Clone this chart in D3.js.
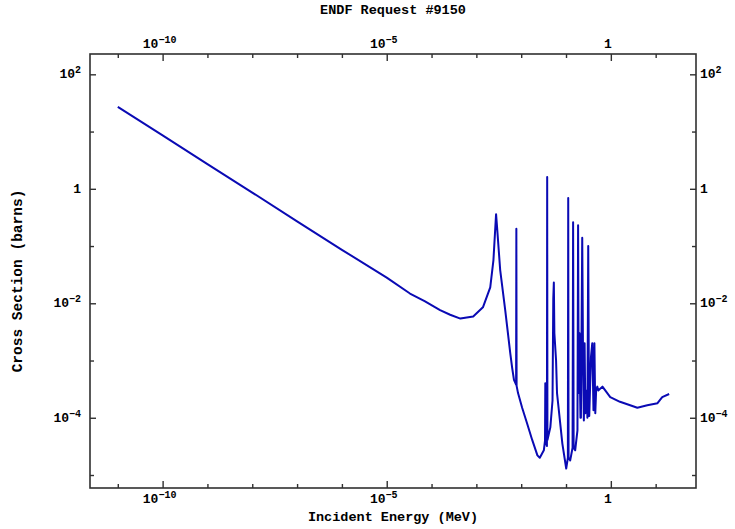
<!DOCTYPE html>
<html>
<head>
<meta charset="utf-8">
<script src="https://cdn.jsdelivr.net/npm/d3@7"></script>
<style>
  html, body { margin: 0; padding: 0; background: #fff; }
  svg { display: block; }
  text { font-family: "Liberation Mono", "DejaVu Sans Mono", monospace; font-weight: bold; fill: #000; }
</style>
</head>
<body>
<svg id="chart" width="735" height="529"></svg>
<script>
// ---- data ----
const title = "ENDF Request #9150";
const xTitle = "Incident Energy (MeV)";
const yTitle = "Cross Section (barns)";

// Incident energy (MeV)
const energy = [
  1e-11, 1e-10, 1e-9, 1e-8, 1e-7, 1e-6, 1e-5, 3.3e-5, 7e-5, 1.55e-4, 2.6e-4,
  4.4e-4, 8.5e-4, 1.4e-3, 2.04e-3, 2.4e-3, 2.75e-3, 2.9e-3, 3.4e-3, 4.4e-3, 5.7e-3,
  6.3e-3, 6.9e-3, 7.7e-3, 7.8e-3, 7.9e-3, 8.5e-3, 0.0105, 0.0135, 0.0176, 0.023,
  0.026, 0.032, 0.0340, 0.0345, 0.0350, 0.0375, 0.038, 0.0385, 0.0447, 0.050,
  0.052, 0.0535, 0.055, 0.060, 0.063, 0.083, 0.101, 0.110, 0.112, 0.114,
  0.124, 0.140, 0.144, 0.148, 0.160, 0.180, 0.186, 0.192, 0.200, 0.206,
  0.210, 0.215, 0.222, 0.230, 0.240, 0.250, 0.260, 0.270, 0.290, 0.300,
  0.313, 0.326, 0.33, 0.36, 0.385, 0.41, 0.43, 0.45, 0.47, 0.50,
  0.525, 0.65, 0.75, 0.97, 1.6, 2.7, 3.9, 6.5, 11, 14,
  20
];
// Cross section (barns)
const sigma = [
  26.9, 8.6, 2.7, 0.86, 0.27, 0.086, 0.028, 0.0148, 0.0109, 0.0076, 0.0063,
  0.0054, 0.0059, 0.0085, 0.019, 0.056, 0.36, 0.21, 0.038, 0.0076, 1.35e-3,
  7.4e-4, 4.6e-4, 3.8e-4, 0.2, 3.6e-4, 2.7e-4, 1.5e-4, 8e-5, 4.1e-5, 2.2e-5,
  2.0e-5, 2.7e-5, 4e-5, 4e-4, 4e-5, 3.2e-5, 1.6, 4.1e-5, 6.8e-5, 2e-4,
  0.012, 0.023, 3e-3, 1.0e-3, 2.7e-4, 3.5e-5, 1.3e-5, 2.0e-5, 0.69, 2.0e-5,
  1.8e-5, 3.0e-5, 0.26, 3.0e-5, 2.7e-5, 6e-5, 0.23, 2.7e-4, 3e-3, 2.7e-4,
  1.0e-4, 1.0e-4, 3e-3, 0.14, 1e-3, 9e-5, 2e-3, 1.2e-4, 3e-4, 1e-4,
  0.1, 1.07e-4, 1.07e-4, 1.15e-3, 2e-3, 1.35e-4, 2e-3, 1.2e-4, 3.0e-4, 3.5e-4,
  3.0e-4, 3.5e-4, 3.0e-4, 2.3e-4, 1.9e-4, 1.65e-4, 1.5e-4, 1.65e-4, 1.8e-4, 2.3e-4,
  2.6e-4
];

const xMajor = [1e-10, 1e-5, 1];
const xMinor = [1e-11, 1e-9, 1e-8, 1e-7, 1e-6, 1e-4, 1e-3, 1e-2, 1e-1, 10];
const yMajor = [1e2, 1, 1e-2, 1e-4];
const yMinor = [10, 1e-1, 1e-3, 1e-5];

// ---- drawing ----
const svg = d3.select("#chart");
const L = 90, R = 696, T = 54, B = 488;

const x = d3.scaleLog().domain([Math.pow(10, -11.62), Math.pow(10, 1.9)]).range([L, R]);
const y = d3.scaleLog().domain([Math.pow(10, -5.227), Math.pow(10, 2.355)]).range([B, T]);

const frameColor = "#303030";

function styleAxis(g) {
  g.select(".domain").remove();
  g.selectAll(".tick line").attr("stroke", frameColor).attr("stroke-width", 1.4);
  g.selectAll(".tick text").remove();
}

// bottom
svg.append("g").attr("transform", `translate(0,${B})`)
  .call(d3.axisBottom(x).tickValues(xMajor).tickSize(-7).tickFormat(""))
  .call(styleAxis);
svg.append("g").attr("transform", `translate(0,${B})`)
  .call(d3.axisBottom(x).tickValues(xMinor).tickSize(-4).tickFormat(""))
  .call(styleAxis);
// top
svg.append("g").attr("transform", `translate(0,${T})`)
  .call(d3.axisTop(x).tickValues(xMajor).tickSize(-7).tickFormat(""))
  .call(styleAxis);
svg.append("g").attr("transform", `translate(0,${T})`)
  .call(d3.axisTop(x).tickValues(xMinor).tickSize(-4).tickFormat(""))
  .call(styleAxis);
// left
svg.append("g").attr("transform", `translate(${L},0)`)
  .call(d3.axisLeft(y).tickValues(yMajor).tickSize(-6).tickFormat(""))
  .call(styleAxis);
svg.append("g").attr("transform", `translate(${L},0)`)
  .call(d3.axisLeft(y).tickValues(yMinor).tickSize(-4).tickFormat(""))
  .call(styleAxis);
// right
svg.append("g").attr("transform", `translate(${R},0)`)
  .call(d3.axisRight(y).tickValues(yMajor).tickSize(-6).tickFormat(""))
  .call(styleAxis);
svg.append("g").attr("transform", `translate(${R},0)`)
  .call(d3.axisRight(y).tickValues(yMinor).tickSize(-4).tickFormat(""))
  .call(styleAxis);

// frame
svg.append("rect").attr("x", L).attr("y", T).attr("width", R - L).attr("height", B - T)
  .attr("fill", "none").attr("stroke", frameColor).attr("stroke-width", 1.6);

// clip + curve
svg.append("clipPath").attr("id", "clip").append("rect")
  .attr("x", L).attr("y", T).attr("width", R - L).attr("height", B - T);

const pts = energy.map((e, i) => [e, sigma[i]]);
const line = d3.line().x(d => x(d[0])).y(d => y(d[1]));
svg.append("path").datum(pts)
  .attr("clip-path", "url(#clip)")
  .attr("d", line)
  .attr("fill", "none")
  .attr("stroke", "#0a0ab4")
  .attr("stroke-width", 2)
  .attr("stroke-linejoin", "round");

// tick label helper
function powLabel(sel, v) {
  const exp = Math.round(Math.log10(v));
  if (exp === 0) {
    sel.text("1");
    return;
  }
  sel.append("tspan").text("10");
  sel.append("tspan").attr("dy", -5).attr("font-size", 10).text(exp < 0 ? "\u2212" + (-exp) : String(exp));
}

const labelSize = 13;
// bottom / top labels
xMajor.forEach(v => {
  svg.append("text").attr("x", x(v) - 3).attr("y", 503).attr("text-anchor", "middle")
    .attr("font-size", labelSize).call(s => powLabel(s, v));
  svg.append("text").attr("x", x(v) - 3).attr("y", 48).attr("text-anchor", "middle")
    .attr("font-size", labelSize).call(s => powLabel(s, v));
});
// left / right labels
yMajor.forEach(v => {
  svg.append("text").attr("x", 81).attr("y", y(v) + 4).attr("text-anchor", "end")
    .attr("font-size", labelSize).call(s => powLabel(s, v));
  svg.append("text").attr("x", 700).attr("y", y(v) + 4).attr("text-anchor", "start")
    .attr("font-size", labelSize).call(s => powLabel(s, v));
});

// titles
svg.append("text").attr("x", (L + R) / 2).attr("y", 14).attr("text-anchor", "middle")
  .attr("font-size", 13.5).text(title);
svg.append("text").attr("x", (L + R) / 2).attr("y", 521).attr("text-anchor", "middle")
  .attr("font-size", 13.5).text(xTitle);
svg.append("text").attr("transform", `translate(22,281) rotate(-90)`)
  .attr("text-anchor", "middle").attr("font-size", 14.5).text(yTitle);
</script>
</body>
</html>
